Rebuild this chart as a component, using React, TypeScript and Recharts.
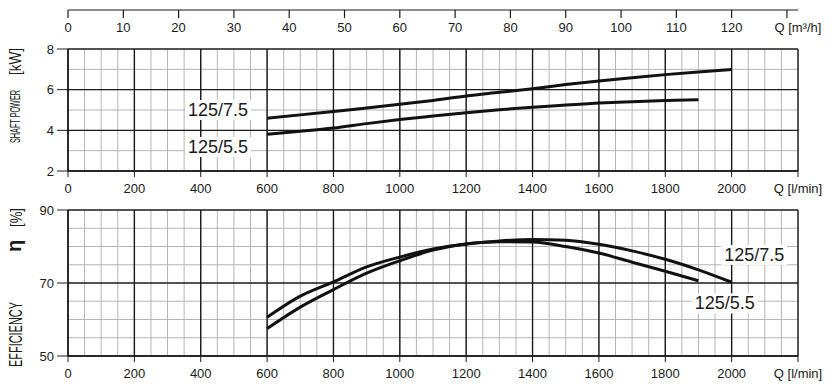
import { LineChart, Line, XAxis, YAxis, CartesianGrid, ReferenceDot } from "recharts";

// flow points in l/min
const flowLpm = [600, 700, 800, 900, 1000, 1100, 1200, 1300, 1400, 1500, 1600, 1700, 1800, 1900, 2000];
const power75 = [4.6, 4.76, 4.93, 5.1, 5.28, 5.47, 5.69, 5.87, 6.05, 6.25, 6.43, 6.59, 6.74, 6.87, 6.99];
const power55 = [3.81, 3.95, 4.11, 4.33, 4.53, 4.7, 4.86, 5.01, 5.14, 5.24, 5.34, 5.41, 5.47, 5.51, null];
const eff75 = [57.5, 63.4, 68.2, 72.7, 76.1, 79.0, 80.7, 81.5, 81.9, 81.7, 80.6, 78.8, 76.5, 73.6, 70.2];
const eff55 = [60.6, 66.4, 70.3, 74.4, 77.1, 79.3, 80.7, 81.3, 81.2, 80.0, 78.2, 75.7, 73.2, 70.6, null];

const qTicksLpm = [0, 200, 400, 600, 800, 1000, 1200, 1400, 1600, 1800, 2000, 2200];
const qTicksM3h = [0, 10, 20, 30, 40, 50, 60, 70, 80, 90, 100, 110, 120, 130];
const powerTicks = [2, 4, 6, 8];
const powerMinor = [3, 5, 7];
const effTicks = [50, 70, 90];
const effMinor = [55, 60, 65, 75, 80, 85];
const qMinor = Array.from({ length: 45 }, (_, i) => i * 50);

const powerTags = [
  { text: "125/7.5", q: 452, v: 5.0 },
  { text: "125/5.5", q: 452, v: 3.18 },
];
const effTags = [
  { text: "125/7.5", q: 2068, v: 77.7 },
  { text: "125/5.5", q: 1979, v: 64.4 },
];

const rows = flowLpm.map((q, i) => ({
  q,
  p75: power75[i],
  p55: power55[i],
  e75: eff75[i],
  e55: eff55[i],
}));

const FONT = "'Liberation Sans', Arial, sans-serif";
const INK = "#1a1a1a";
const MINOR = "#b4b4b4";
const W = 835;
const M = { left: 0, right: 37 };
const tickStyle = { fontSize: 13, fill: INK, fontFamily: FONT };

const fmtLpm = (v: number) => (v === 2200 ? "Q [l/min]" : String(v));

const renderTag = (props: any) => {
  const { viewBox, value } = props;
  const cx = viewBox.x + (viewBox.width || 0) / 2;
  const cy = viewBox.y + (viewBox.height || 0) / 2;
  return (
    <g>
      <rect x={cx - 33} y={cy - 10} width={66} height={20} fill="#fff" />
      <text x={cx} y={cy + 6} textAnchor="middle" fontSize={18} fontFamily={FONT} fill={INK}>
        {value}
      </text>
    </g>
  );
};

const TopTick = (props: any) => {
  const { x, y, payload } = props;
  const last = payload.value === 130;
  return (
    <text x={x + (last ? 11 : 0)} y={y} dy="0.71em" textAnchor="middle" {...tickStyle}>
      {last ? "Q [m³/h]" : payload.value}
    </text>
  );
};

const powerTitle = (props: any) => {
  const { viewBox } = props;
  const cy = viewBox.y + viewBox.height / 2 - 14;
  return (
    <g transform={`translate(15,${cy}) rotate(-90)`}>
      <text x={-47} y={5} fontSize={15} fontFamily={FONT} fill={INK} textLength={53} lengthAdjust="spacingAndGlyphs">
        SHAFT POWER
      </text>
      <text x={21} y={6} fontSize={16} fontFamily={FONT} fill={INK} textLength={27} lengthAdjust="spacingAndGlyphs">
        [kW]
      </text>
    </g>
  );
};

const effTitle = (props: any) => {
  const { viewBox } = props;
  const cy = viewBox.y + viewBox.height / 2 + 4;
  return (
    <g transform={`translate(15,${cy}) rotate(-90)`}>
      <text x={-80} y={7} fontSize={18} fontFamily={FONT} fill={INK} textLength={65} lengthAdjust="spacingAndGlyphs">
        EFFICIENCY
      </text>
      <text x={35} y={6} fontSize={20} fontWeight="bold" fontFamily={FONT} fill={INK}>
        η
      </text>
      <text x={60} y={7} fontSize={17} fontFamily={FONT} fill={INK} textLength={19} lengthAdjust="spacingAndGlyphs">
        [%]
      </text>
    </g>
  );
};

export default function App() {
  return (
    <div style={{ position: "absolute", left: 0, top: 0, width: W, height: 387, background: "#fff" }}>
      {/* top flow axis in m3/h */}
      <div style={{ position: "absolute", left: 0, top: 0 }}>
        <LineChart width={W} height={40} data={rows} margin={{ top: 0, right: M.right, left: 68, bottom: 0 }}>
          <XAxis
            type="number"
            dataKey="q"
            domain={[0, 132]}
            ticks={qTicksM3h}
            interval={0}
            height={30}
            tickSize={8}
            tickMargin={5}
            axisLine={{ stroke: INK, strokeWidth: 1.2 }}
            tickLine={{ stroke: INK, strokeWidth: 1.2 }}
            tick={<TopTick />}
            allowDataOverflow
          />
          <YAxis hide domain={[0, 1]} />
        </LineChart>
      </div>

      {/* shaft power */}
      <div style={{ position: "absolute", left: 0, top: 40 }}>
        <LineChart width={W} height={160} data={rows} margin={{ top: 9, right: M.right, left: 0, bottom: 0 }}>
          <CartesianGrid stroke={MINOR} strokeWidth={1} verticalValues={qMinor} horizontalValues={powerMinor} fill="none" />
          <CartesianGrid stroke={INK} strokeWidth={1.4} verticalValues={qTicksLpm} horizontalValues={powerTicks} fill="none" />
          <XAxis
            type="number"
            dataKey="q"
            domain={[0, 2200]}
            ticks={qTicksLpm}
            interval={0}
            height={29}
            tickSize={6}
            tickMargin={7}
            tickFormatter={fmtLpm}
            axisLine={{ stroke: INK, strokeWidth: 1.4 }}
            tickLine={{ stroke: INK }}
            tick={tickStyle}
          />
          <YAxis
            type="number"
            domain={[2, 8]}
            ticks={powerTicks}
            interval={0}
            width={68}
            tickSize={11}
            tickMargin={3}
            axisLine={{ stroke: INK, strokeWidth: 1.4 }}
            tickLine={{ stroke: INK }}
            tick={tickStyle}
            label={{ content: powerTitle }}
          />
          <Line type="monotone" dataKey="p75" stroke="#111" strokeWidth={3} dot={false} isAnimationActive={false} />
          <Line type="monotone" dataKey="p55" stroke="#111" strokeWidth={3} dot={false} isAnimationActive={false} />
          {powerTags.map((t) => (
            <ReferenceDot key={t.text} x={t.q} y={t.v} r={0} stroke="none" label={{ value: t.text, content: renderTag }} />
          ))}
        </LineChart>
      </div>

      {/* efficiency */}
      <div style={{ position: "absolute", left: 0, top: 200 }}>
        <LineChart width={W} height={187} data={rows} margin={{ top: 10, right: M.right, left: 0, bottom: 0 }}>
          <CartesianGrid stroke={MINOR} strokeWidth={1} verticalValues={qMinor} horizontalValues={effMinor} fill="none" />
          <CartesianGrid stroke={INK} strokeWidth={1.4} verticalValues={qTicksLpm} horizontalValues={effTicks} fill="none" />
          <XAxis
            type="number"
            dataKey="q"
            domain={[0, 2200]}
            ticks={qTicksLpm}
            interval={0}
            height={31}
            tickSize={6}
            tickMargin={7}
            tickFormatter={fmtLpm}
            axisLine={{ stroke: INK, strokeWidth: 1.4 }}
            tickLine={{ stroke: INK }}
            tick={tickStyle}
          />
          <YAxis
            type="number"
            domain={[50, 90]}
            ticks={effTicks}
            interval={0}
            width={68}
            tickSize={11}
            tickMargin={3}
            axisLine={{ stroke: INK, strokeWidth: 1.4 }}
            tickLine={{ stroke: INK }}
            tick={tickStyle}
            label={{ content: effTitle }}
          />
          <Line type="monotone" dataKey="e75" stroke="#111" strokeWidth={3} dot={false} isAnimationActive={false} />
          <Line type="monotone" dataKey="e55" stroke="#111" strokeWidth={3} dot={false} isAnimationActive={false} />
          {effTags.map((t) => (
            <ReferenceDot key={t.text} x={t.q} y={t.v} r={0} stroke="none" label={{ value: t.text, content: renderTag }} />
          ))}
        </LineChart>
      </div>
    </div>
  );
}
